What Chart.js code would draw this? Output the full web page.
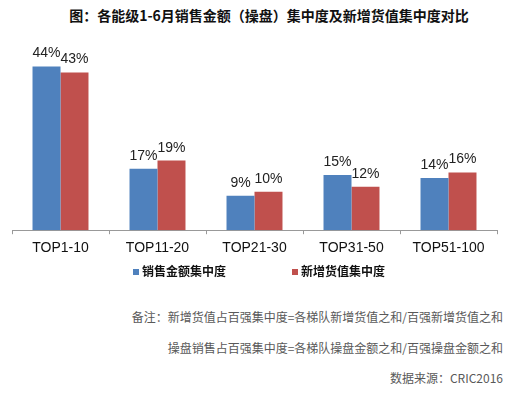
<!DOCTYPE html>
<html>
<head>
<meta charset="utf-8">
<script src="https://cdn.jsdelivr.net/npm/chart.js@4/dist/chart.umd.min.js"></script>
<style>
  html, body { margin: 0; padding: 0; background: #fff; }
  #wrap { position: relative; width: 528px; height: 396px; overflow: hidden; font-family: "Noto Sans CJK SC", sans-serif; }
  #chart { position: absolute; left: 0; top: 0; }
  #title { position: absolute; left: 0; top: 5px; width: 538px; text-align: center; font-size: 14px; font-weight: bold; color: #111; line-height: 20px; }
  #legend { position: absolute; top: 262px; left: 0; width: 528px; height: 18px; }
  .item { position: absolute; top: 0; font-size: 12px; font-weight: bold; color: #111; line-height: 18px; white-space: nowrap; }
  .item span.box { display: inline-block; width: 6px; height: 6px; margin-right: 3px; vertical-align: 1px; }
  .note { position: absolute; right: 25px; font-size: 12px; color: #595959; line-height: 18px; white-space: nowrap; }
</style>
</head>
<body>
<div id="wrap">
  <div id="title">图：各能级1-6月销售金额（操盘）集中度及新增货值集中度对比</div>
  <canvas id="chart" width="528" height="264"></canvas>
  <div id="legend"></div>
  <div class="note" style="top:308px">备注：新增货值占百强集中度=各梯队新增货值之和/百强新增货值之和</div>
  <div class="note" style="top:339px">操盘销售占百强集中度=各梯队操盘金额之和/百强操盘金额之和</div>
  <div class="note" style="top:369px">数据来源：CRIC2016</div>
</div>
<script>
// categories and series (percent)
const categories = ['TOP1-10', 'TOP11-20', 'TOP21-30', 'TOP31-50', 'TOP51-100'];
const salesShare = [44.2, 16.6, 9.3, 14.9, 14.1];
const newStockShare = [42.6, 18.8, 10.4, 11.7, 15.6];
const seriesNames = ['销售金额集中度', '新增货值集中度'];
const seriesColors = ['#4F81BD', '#C0504D'];

// value labels above each bar
const barLabels = {
  id: 'barLabels',
  afterDatasetsDraw(chart) {
    const ctx = chart.ctx;
    ctx.save();
    ctx.font = '14px "Liberation Sans", Arial, sans-serif';
    ctx.fillStyle = '#222';
    ctx.textAlign = 'center';
    ctx.textBaseline = 'alphabetic';
    chart.data.datasets.forEach((ds, i) => {
      chart.getDatasetMeta(i).data.forEach((bar, j) => {
        ctx.fillText(Math.round(ds.data[j]) + '%', bar.x, bar.y - 9);
      });
    });
    ctx.restore();
  }
};

const ctx = document.getElementById('chart').getContext('2d');
const chart = new Chart(ctx, {
  type: 'bar',
  data: {
    labels: categories,
    datasets: [
      { label: seriesNames[0], data: salesShare, backgroundColor: seriesColors[0] },
      { label: seriesNames[1], data: newStockShare, backgroundColor: seriesColors[1] },
    ],
  },
  options: {
    responsive: false,
    animation: false,
    layout: { padding: { top: 45, left: 12, right: 31, bottom: 1 } },
    datasets: {
      bar: { categoryPercentage: 0.577, barPercentage: 1, borderWidth: 0 },
    },
    plugins: {
      legend: { display: false },
      tooltip: { enabled: false },
    },
    scales: {
      x: {
        offset: true,
        grid: { display: true, offset: true, drawOnChartArea: false, drawTicks: true, tickLength: 4, color: '#999' },
        border: { display: true, color: '#999', width: 1 },
        ticks: { color: '#111', padding: 6, font: { family: '"Liberation Sans", Arial, sans-serif', size: 14 } },
      },
      y: { display: false, min: 0, max: 50 },
    },
  },
  plugins: [barLabels],
});

// html legend built from the chart's datasets
const legendEl = document.getElementById('legend');
const legendX = [133, 292];
chart.data.datasets.forEach((ds, i) => {
  const item = document.createElement('div');
  item.className = 'item';
  item.style.left = legendX[i] + 'px';
  item.innerHTML = '<span class="box" style="background:' + ds.backgroundColor + '"></span>' + ds.label;
  legendEl.appendChild(item);
});
</script>
</body>
</html>
